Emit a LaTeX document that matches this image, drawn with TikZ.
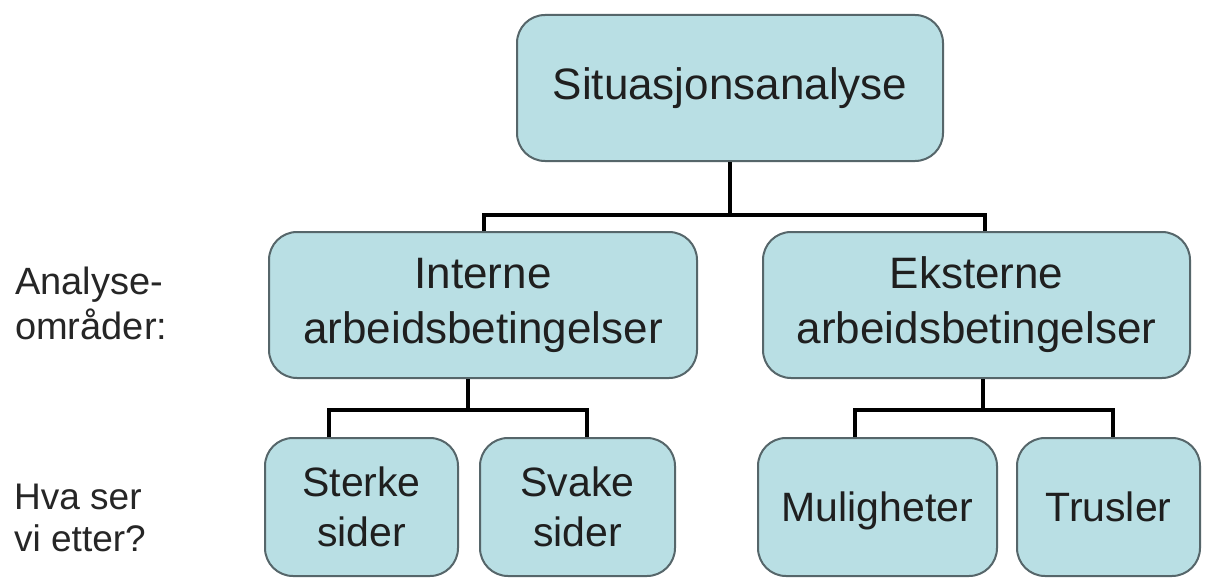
\documentclass[tikz,border=0pt]{standalone}
\usepackage{fontspec}
\setmainfont{Liberation Sans}
\definecolor{boxfill}{HTML}{B9DFE4}
\definecolor{boxline}{HTML}{56666A}
\begin{document}
\begin{tikzpicture}[x=1pt,y=-1pt,
  box/.style={draw=boxline, line width=2pt, fill=boxfill, rounded corners=28pt,
    inner sep=0pt, align=center, text=black!88},
  big/.style={font=\fontsize{44}{55}\selectfont},
  small/.style={font=\fontsize{41}{50}\selectfont},
  side/.style={inner sep=0pt, align=left, anchor=north west, text=black!85},
  conn/.style={line width=4.5pt, black}]
\useasboundingbox[fill=white] (0,0) rectangle (1207,578);

\node[box, big, minimum width=426pt, minimum height=146pt] (top) at (730,88) {Situasjonsanalyse};
\node[box, big, minimum width=428pt, minimum height=146pt] (int) at (483,305) {Interne\\arbeidsbetingelser};
\node[box, big, minimum width=427pt, minimum height=146pt] (ext) at (976.5,305) {Eksterne\\arbeidsbetingelser};

\node[box, small, minimum width=193pt, minimum height=138pt] (sterk) at (361.5,507) {Sterke\\sider};
\node[box, small, minimum width=195pt, minimum height=138pt] (svak) at (577.5,507) {Svake\\sider};
\node[box, small, text depth=0pt, minimum width=239pt, minimum height=138pt] (mul) at (877.5,507) {Muligheter};
\node[box, small, text depth=0pt, minimum width=183pt, minimum height=138pt] (trus) at (1108.5,507) {Trusler};

\node[side, font=\fontsize{38}{45}\selectfont] (lab1) at (15,267) {Analyse-\\områder:};
\node[side, font=\fontsize{37}{42}\selectfont] (lab2) at (14,484) {Hva ser\\vi etter?};

\coordinate (j1) at (730,215);
\coordinate (j1l) at (484,215);
\coordinate (j1r) at (985,215);
\coordinate (j2) at (468,410);
\coordinate (j2l) at (329,410);
\coordinate (j2r) at (587,410);
\coordinate (j3) at (983,410);
\coordinate (j3l) at (855,410);
\coordinate (j3r) at (1113,410);

\draw[conn] (top.south) -- (j1);
\draw[conn] (int.north -| j1l) -- (j1l) -- (j1r) -- (ext.north -| j1r);
\draw[conn] (int.south -| j2) -- (j2);
\draw[conn] (sterk.north -| j2l) -- (j2l) -- (j2r) -- (svak.north -| j2r);
\draw[conn] (ext.south -| j3) -- (j3);
\draw[conn] (mul.north -| j3l) -- (j3l) -- (j3r) -- (trus.north -| j3r);
\end{tikzpicture}
\end{document}
